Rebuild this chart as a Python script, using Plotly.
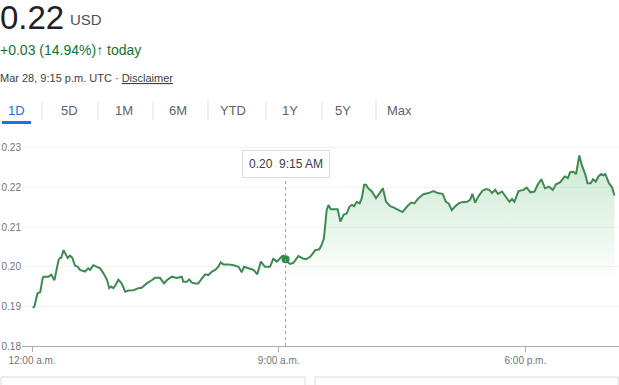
import plotly.graph_objects as go

# ---- data (minutes after midnight, Mar 28, UTC) ----
minutes = [1, 5, 12, 18, 23, 25, 36, 42, 49, 58, 61, 64, 69, 74, 78, 83, 88, 94, 100, 105,
           116, 123, 127, 134, 142, 149, 156, 164, 169, 173, 178, 183, 189, 196, 204, 211, 222, 233, 240, 251,
           262, 269, 280, 289, 295, 306, 317, 328, 331, 339, 344, 350, 357, 364, 372, 379, 386, 394, 401, 408,
           413, 419, 430, 441, 452, 459, 464, 474, 485, 493, 501, 510, 521, 528, 536, 547, 551, 555, 558, 565,
           572, 583, 593, 600, 609, 620, 629, 634, 639, 645, 649, 654, 660, 669, 675, 682, 689, 695, 700, 705,
           711, 717, 722, 727, 731, 736, 744, 753, 761, 768, 775, 784, 791, 799, 804, 811, 821, 830, 837, 846,
           857, 868, 879, 888, 899, 906, 912, 919, 926, 934, 941, 952, 959, 964, 970, 977, 986, 994, 1001, 1007,
           1014, 1020, 1029, 1037, 1045, 1051, 1056, 1065, 1076, 1083, 1091, 1100, 1107, 1115, 1123, 1132, 1140, 1147, 1156, 1166,
           1173, 1178, 1185, 1191, 1198, 1204, 1211, 1216, 1223, 1228, 1234, 1240, 1246, 1251, 1255, 1263, 1270, 1275]
prices = [0.1897, 0.1899, 0.1933, 0.1936, 0.1970, 0.1975, 0.1975, 0.1980, 0.1966, 0.2017, 0.2022, 0.2023, 0.2042, 0.2030, 0.2022, 0.2028, 0.2023, 0.2003, 0.2000, 0.1992,
          0.1988, 0.1996, 0.1992, 0.2004, 0.2000, 0.1996, 0.1984, 0.1967, 0.1946, 0.1950, 0.1946, 0.1954, 0.1967, 0.1958, 0.1937, 0.1940, 0.1941, 0.1946, 0.1947, 0.1958,
          0.1966, 0.1972, 0.1972, 0.1958, 0.1966, 0.1975, 0.1972, 0.1975, 0.1962, 0.1962, 0.1968, 0.1960, 0.1958, 0.1958, 0.1971, 0.1981, 0.1979, 0.1988, 0.1992, 0.2000,
          0.2011, 0.2006, 0.2006, 0.2004, 0.2000, 0.1986, 0.2000, 0.1997, 0.1992, 0.1981, 0.2013, 0.2000, 0.2000, 0.2020, 0.2013, 0.2026, 0.2028, 0.2019, 0.2013, 0.2007,
          0.2010, 0.2027, 0.2021, 0.2019, 0.2025, 0.2042, 0.2044, 0.2055, 0.2072, 0.2143, 0.2156, 0.2145, 0.2145, 0.2145, 0.2114, 0.2131, 0.2135, 0.2152, 0.2156, 0.2153,
          0.2164, 0.2160, 0.2173, 0.2207, 0.2207, 0.2198, 0.2190, 0.2173, 0.2186, 0.2198, 0.2164, 0.2153, 0.2150, 0.2145, 0.2143, 0.2138, 0.2152, 0.2162, 0.2160, 0.2173,
          0.2183, 0.2186, 0.2191, 0.2186, 0.2184, 0.2164, 0.2160, 0.2143, 0.2152, 0.2160, 0.2163, 0.2164, 0.2169, 0.2184, 0.2162, 0.2177, 0.2192, 0.2196, 0.2194, 0.2186,
          0.2194, 0.2184, 0.2190, 0.2177, 0.2164, 0.2171, 0.2164, 0.2191, 0.2194, 0.2200, 0.2188, 0.2190, 0.2207, 0.2221, 0.2198, 0.2202, 0.2194, 0.2208, 0.2213, 0.2228,
          0.2224, 0.2239, 0.2240, 0.2234, 0.2281, 0.2255, 0.2234, 0.2211, 0.2211, 0.2221, 0.2215, 0.2228, 0.2234, 0.2231, 0.2234, 0.2211, 0.2200, 0.2180]

x_tick_vals = [0, 540, 1080]
x_tick_text = ["12:00 a.m.", "9:00 a.m.", "6:00 p.m."]
y_tick_vals = [0.18, 0.19, 0.20, 0.21, 0.22, 0.23]
tabs = ["1D", "5D", "1M", "6M", "YTD", "1Y", "5Y", "Max"]
hover_minute = 555
price_text = "0.22"
currency = "USD"
change_text = "+0.03 (14.94%)"
stamp_text = "Mar 28, 9:15 p.m. UTC · "

# ---- layout geometry ----
W, H = 619, 385
ML, MR, MT, MB = 22, 0, 138, 39
PW, PH = W - ML - MR, H - MT - MB


def px(x):
    return (x - ML) / PW


def py(y):
    return (H - MB - y) / PH


LINE = "#3d8b52"
GREEN_TXT = "#137333"
GRAY = "#70757a"
FONT = "Liberation Sans, Arial, sans-serif"

hi = minutes.index(hover_minute)
hover_val = prices[hi]
h, m = divmod(hover_minute, 60)
hover_label = f"{hover_val:.2f}&nbsp;&nbsp;{(h % 12) or 12}:{m:02d} {'AM' if h < 12 else 'PM'}"

fig = go.Figure()
fig.add_trace(go.Scatter(
    x=minutes[hi:], y=prices[hi:], mode="lines", line=dict(color=LINE, width=0),
    fill="tozeroy",
    fillgradient=dict(type="vertical", start=0.0, stop=0.226,
                      colorscale=[[0, "rgba(52,168,83,0)"], [0.87, "rgba(52,168,83,0)"],
                                  [1, "rgba(52,168,83,0.24)"]]),
    hoverinfo="skip", showlegend=False))
fig.add_trace(go.Scatter(x=minutes, y=prices, mode="lines",
                         line=dict(color=LINE, width=2), showlegend=False))
fig.add_trace(go.Scatter(x=[hover_minute], y=[hover_val], mode="markers",
                         marker=dict(color="#2e8b45", size=8), showlegend=False))

ann = []
ann.append(dict(text=price_text, x=px(-2), y=py(17), xanchor="left", yanchor="middle",
                font=dict(size=33, color="#202124")))
ann.append(dict(text=currency, x=px(68), y=py(19), xanchor="left", yanchor="middle",
                font=dict(size=15, color="#4d5156")))
ann.append(dict(text=change_text + "<b>↑</b> today", x=px(-2), y=py(50), xanchor="left", yanchor="middle",
                font=dict(size=14, color=GREEN_TXT)))
ann.append(dict(text=stamp_text + "<u>Disclaimer</u>", x=px(-2), y=py(78), xanchor="left", yanchor="middle",
                font=dict(size=11, color="#3c4043")))
tab_x = [16, 69, 124, 178, 233, 290, 343, 399]
for t, tx in zip(tabs, tab_x):
    ann.append(dict(text=t, x=px(tx), y=py(110), xanchor="center", yanchor="middle",
                    font=dict(size=13, color="#1a73e8" if t == "1D" else "#5f6368")))
ann.append(dict(text=hover_label, x=hover_minute, xref="x", y=py(164), yanchor="middle", xanchor="center",
                showarrow=False, bgcolor="white", bordercolor="#dadce0", borderwidth=1, borderpad=6,
                font=dict(size=12, color="#3c4043")))
for a in ann:
    a.setdefault("xref", "paper")
    a["yref"] = "paper"
    a["showarrow"] = False
    a["font"]["family"] = FONT

shapes = []
for sx in [42, 98, 153, 208, 266, 322, 376]:
    shapes.append(dict(type="line", xref="paper", yref="paper", x0=px(sx), x1=px(sx), y0=py(101), y1=py(120),
                       line=dict(color="#e3e3e3", width=1)))
shapes.append(dict(type="rect", xref="paper", yref="paper", x0=px(2), x1=px(31), y0=py(124), y1=py(121),
                   fillcolor="#1a73e8", line=dict(width=0)))
shapes.append(dict(type="line", xref="x", yref="paper", x0=hover_minute, x1=hover_minute, y0=0, y1=py(178),
                   line=dict(color="#9aa0a6", width=1, dash="dot")))
for x0, x1 in [(1, 305), (315, 618)]:
    shapes.append(dict(type="rect", xref="paper", yref="paper", x0=px(x0), x1=px(x1), y0=py(395), y1=py(377),
                       line=dict(color="#dadce0", width=1), fillcolor="white"))

fig.update_layout(
    width=W, height=H, margin=dict(l=ML, r=MR, t=MT, b=MB),
    paper_bgcolor="white", plot_bgcolor="white",
    font=dict(family=FONT, color=GRAY, size=10),
    annotations=ann, shapes=shapes,
    xaxis=dict(range=[-22, 1285], tickvals=x_tick_vals, ticktext=x_tick_text,
               showgrid=False, zeroline=False, showline=True, linecolor="#a8abaf", linewidth=1,
               ticks="outside", ticklen=5, tickcolor="#a8abaf", tickfont=dict(size=10, color=GRAY)),
    yaxis=dict(range=[0.18, 0.2325], tickvals=y_tick_vals, tickformat=".2f",
               showgrid=True, gridcolor="#f3f3f3", zeroline=False, showline=False,
               ticks="", tickfont=dict(size=10, color=GRAY)),
    hovermode=False,
)
fig.write_html("out.html")
